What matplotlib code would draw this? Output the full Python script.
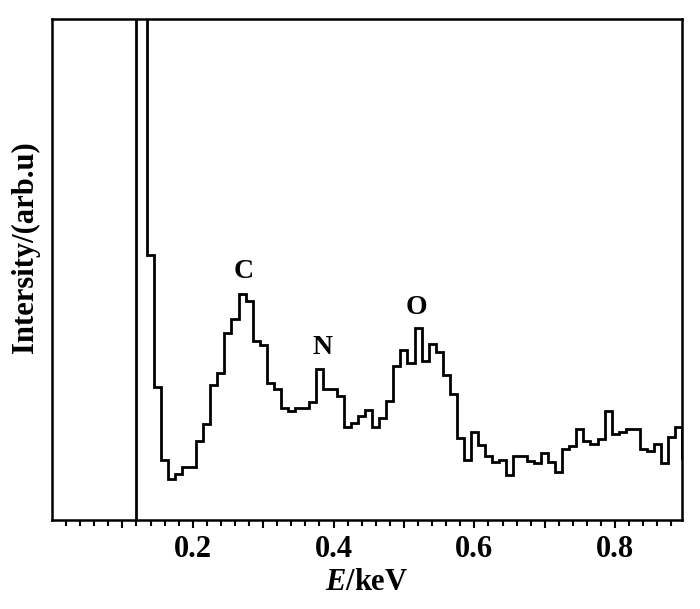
import numpy as np
import matplotlib
matplotlib.use("Agg")
import matplotlib.pyplot as plt

# ---- data (arbitrary intensity units) ----
noise_peak_energy = 0.12      # keV, off-scale detector noise peak
noise_peak_value = 2000
bin_start = 0.135             # keV
bin_width = 0.01              # keV
counts = [265, 133, 60, 41, 46, 53, 53, 79, 96, 135,
          147, 187, 201, 226, 219, 179, 175, 137, 131, 112,
          109, 112, 112, 118, 151, 131, 131, 124, 93, 97,
          104, 110, 93, 102, 119, 154, 170, 157, 192, 159,
          176, 168, 145, 126, 82, 60, 88, 75, 64, 58,
          60, 45, 64, 64, 59, 57, 67, 58, 48, 71,
          74, 91, 79, 76, 81, 109, 86, 88, 91, 91,
          71, 69, 76, 57, 83, 93, 62]
peak_labels = ["C", "N", "O"]
peak_x = [0.2727, 0.3849, 0.518]
peak_y = [248, 172, 213]
major_ticks = [0.1, 0.2, 0.3, 0.4, 0.5, 0.6, 0.7, 0.8]
major_labels = ["", "0.2", "", "0.4", "", "0.6", "", "0.8"]

plt.rcParams['font.family'] = ['Liberation Serif', 'DejaVu Serif']
plt.rcParams['font.weight'] = 'bold'
plt.rcParams['mathtext.fontset'] = 'custom'
plt.rcParams['mathtext.it'] = 'Liberation Serif:italic:bold'
plt.rcParams['mathtext.rm'] = 'Liberation Serif:bold'

fig = plt.figure(figsize=(7.0, 6.09), dpi=100)
ax = fig.add_axes([52/700, 1-520/609, 630/700, 501/609])

edges = np.concatenate([[noise_peak_energy], bin_start + bin_width*np.arange(len(counts)+1)])
values = np.concatenate([[noise_peak_value], counts])
ax.stairs(values, edges, baseline=0, color='black', linewidth=2.0)

ax.set_xlim(0, 0.895)
ax.set_ylim(0, 501)

for s in ax.spines.values():
    s.set_linewidth(1.8)

ax.set_yticks([])
ax.set_xticks(major_ticks)
ax.set_xticklabels(major_labels)
ax.set_xticks(np.arange(0.02, 0.895, 0.02), minor=True)
ax.tick_params(axis='x', which='major', direction='out', length=6, width=1.5,
               labelsize=22, pad=5)
ax.tick_params(axis='x', which='minor', direction='out', length=4, width=1.5)

for lab, x, y in zip(peak_labels, peak_x, peak_y):
    ax.text(x, y, lab, ha='center', va='center', fontsize=20, fontweight='bold')

ax.set_xlabel("$E$/keV", fontsize=22, fontweight='bold', labelpad=3)
fig.text(25/700, 1-247/609, "Intersity/(arb.u)", rotation=90, ha='center', va='center',
         fontsize=22, fontweight='bold')

fig.savefig("out.png", dpi=100, facecolor='white')
